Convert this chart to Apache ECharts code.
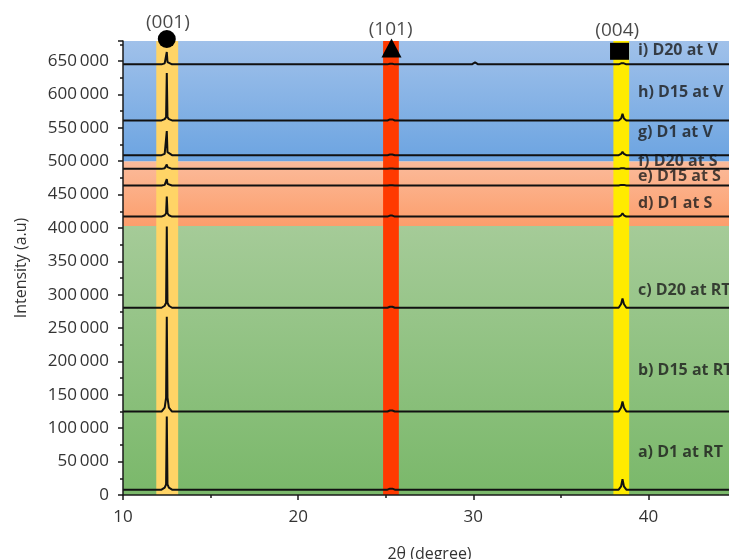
<!DOCTYPE html>
<html>
<head>
<meta charset="utf-8">
<script src="https://cdn.jsdelivr.net/npm/echarts@6/dist/echarts.min.js"></script>
<style>
  html, body { margin: 0; padding: 0; background: #ffffff; }
  #chart { width: 729px; height: 559px; }
</style>
</head>
<body>
<div id="chart"></div>
<script>
// 2θ sampling points shared by every diffractogram (degrees)
const twoTheta = [10, 12.2, 12.38, 12.46, 12.5, 12.54, 12.62, 12.8, 25.1, 25.24, 25.31, 25.38, 25.52, 29.92, 30.1, 30.28, 38.3, 38.44, 38.52, 38.6, 38.74, 45];

// Stacked intensities (a.u.), one array per sample
const intensityA = [8000, 8000, 11000, 16000, 117500, 16000, 11000, 8000, 8000, 9500, 11500, 9500, 8000, 8000, 8000, 8000, 8000, 13000, 23500, 13000, 8000, 8000];
const intensityB = [125000, 125000, 131000, 146000, 267000, 146000, 131000, 125000, 125000, 126500, 129000, 126500, 125000, 125000, 125000, 125000, 125000, 131000, 140000, 131000, 125000, 125000];
const intensityC = [280500, 280500, 283500, 288000, 402000, 288000, 283500, 280500, 280500, 282000, 284500, 282000, 280500, 280500, 280500, 280500, 280500, 286000, 294500, 286000, 280500, 280500];
const intensityD = [417000, 417000, 419000, 422000, 447000, 422000, 419000, 417000, 417000, 418500, 420500, 418500, 417000, 417000, 417000, 417000, 417000, 419000, 422000, 419000, 417000, 417000];
const intensityE = [463500, 463500, 464500, 466000, 473000, 466000, 464500, 463500, 463500, 464000, 465000, 464000, 463500, 463500, 463500, 463500, 463500, 464500, 466000, 464500, 463500, 463500];
const intensityF = [488500, 488500, 489500, 491000, 495000, 491000, 489500, 488500, 488500, 489000, 489500, 489000, 488500, 488500, 488500, 488500, 488500, 489500, 491500, 489500, 488500, 488500];
const intensityG = [509000, 509000, 511000, 513500, 545000, 513500, 511000, 509000, 509000, 510000, 511000, 510000, 509000, 509000, 509000, 509000, 509000, 511000, 514000, 511000, 509000, 509000];
const intensityH = [561000, 561000, 563000, 566000, 632000, 566000, 563000, 561000, 561000, 562500, 564500, 562500, 561000, 561000, 561000, 561000, 561000, 564000, 571000, 564000, 561000, 561000];
const intensityI = [645000, 645000, 646500, 648500, 663500, 648500, 646500, 645000, 645000, 646000, 647500, 646000, 645000, 645000, 648000, 645000, 645000, 646500, 648500, 646500, 645000, 645000];

const sampleNames = ['a) D1 at RT', 'b) D15 at RT', 'c) D20 at RT', 'd) D1 at S', 'e) D15 at S', 'f) D20 at S', 'g) D1 at V', 'h) D15 at V', 'i) D20 at V'];

// Reflections and their 2θ windows
const planeNames = ['(001)', '(101)', '(004)'];
const planeAngles = [12.5, 25.33, 38.35];
const planeWindows = [[11.9, 13.15], [24.85, 25.75], [38.0, 38.9]];

// Intensity limits of the RT / S / V groups
const groupLimits = [0, 403000, 500000, 680000];

// Axis ranges and ticks
const xRange = [10, 45];
const xStep = 10;
const yRange = [0, 680000];
const yStep = 50000;

// ---------------------------------------------------------------------------
const intensities = [intensityA, intensityB, intensityC, intensityD, intensityE, intensityF, intensityG, intensityH, intensityI];

const grad = (top, bottom) => new echarts.graphic.LinearGradient(0, 0, 0, 1, [
  { offset: 0, color: top }, { offset: 1, color: bottom }
]);
const groupFills = [grad('#a5cb98', '#7ab86a'), grad('#fbbb9b', '#fc9e6c'), grad('#a0c1ea', '#6ca4e1')];
const windowFills = ['#ffd466', '#ff3a00', '#ffeb00'];

const axisFont = 'Open Sans, DejaVu Sans, sans-serif';
const inkColor = '#333333';

// label anchor heights for the sample captions and the reflection captions
const captionLevels = [64400, 187200, 307000, 437400, 477000, 499500, 543700, 603600, 666500];
const captionX = 39.4;
const planeCaptionPos = [[12.56, 707300], [25.28, 696400], [38.22, 694900]];
const markerPos = [[planeAngles[0], 683000], [planeAngles[1], 669500], [planeAngles[2], 664600]];
const markerShapes = [['circle', 18], ['triangle', [20, 19]], ['rect', [19, 17]]];

const lineSeries = intensities.map((vals, k) => ({
  name: sampleNames[k],
  type: 'line',
  z: 3,
  symbol: 'none',
  silent: true,
  lineStyle: { color: '#111111', width: 2 },
  data: vals.map((v, j) => [twoTheta[j], v])
}));

const option = {
  animation: false,
  grid: { left: 123, top: 41, width: 613, height: 454, containLabel: false, outerBoundsMode: 'none' },
  xAxis: {
    type: 'value', min: xRange[0], max: xRange[1], interval: xStep,
    z: 10,
    name: '2θ (degree)', nameLocation: 'middle', nameGap: 51,
    nameTextStyle: { fontFamily: axisFont, fontSize: 16, color: inkColor },
    axisLine: { show: true, lineStyle: { color: '#1a1a1a', width: 1.5 } },
    axisTick: { show: true, inside: false, length: 5, lineStyle: { color: '#1a1a1a', width: 1.5 } },
    minorTick: { show: true, splitNumber: 2, length: 3, lineStyle: { color: '#1a1a1a', width: 1.5 } },
    axisLabel: {
      margin: 14, fontFamily: axisFont, fontSize: 17, color: inkColor, hideOverlap: false,
      formatter: v => (v % xStep === 0 ? String(v) : '')
    },
    splitLine: { show: false }, minorSplitLine: { show: false }
  },
  yAxis: {
    type: 'value', min: yRange[0], max: yRange[1], interval: yStep,
    z: 10,
    name: 'Intensity (a.u)', nameLocation: 'middle', nameGap: 94,
    nameTextStyle: { fontFamily: axisFont, fontSize: 16, color: inkColor },
    axisLine: { show: true, lineStyle: { color: '#1a1a1a', width: 1.5 } },
    axisTick: { show: true, inside: false, length: 5, lineStyle: { color: '#1a1a1a', width: 1.5 } },
    minorTick: { show: true, splitNumber: 2, length: 3, lineStyle: { color: '#1a1a1a', width: 1.5 } },
    axisLabel: {
      margin: 14, fontFamily: axisFont, fontSize: 17, color: inkColor,
      formatter: v => (v % yStep !== 0 ? '' : (v === 0 ? '0' : (v / 1000) + '\u2009000'))
    },
    splitLine: { show: false }, minorSplitLine: { show: false }
  },
  series: [
    {
      // RT / S / V group backgrounds
      type: 'line', data: [], silent: true,
      markArea: {
        z: 1, silent: true,
        data: groupFills.map((fill, k) => [
          { yAxis: groupLimits[k], itemStyle: { color: fill } },
          { yAxis: groupLimits[k + 1] }
        ])
      }
    },
    {
      // reflection windows
      type: 'line', data: [], silent: true,
      markArea: {
        z: 2, silent: true,
        data: planeWindows.map((w, k) => [
          { xAxis: w[0], itemStyle: { color: windowFills[k] } },
          { xAxis: w[1] }
        ])
      }
    },
    {
      // sample captions
      type: 'scatter', z: 2.5, silent: true, clip: false, symbolSize: 0,
      data: sampleNames.map((n, k) => ({ value: [captionX, captionLevels[k]], name: n })),
      label: {
        show: true, position: 'right', distance: 0, formatter: p => p.name,
        fontFamily: axisFont, fontWeight: 'bold', fontSize: 16, color: '#1c1c1c'
      }
    },
    ...lineSeries,
    {
      // reflection markers
      type: 'scatter', z: 6, silent: true, clip: false,
      itemStyle: { color: '#000000', opacity: 1 },
      data: markerPos.map((p, k) => ({ value: p, symbol: markerShapes[k][0], symbolSize: markerShapes[k][1] }))
    },
    {
      // reflection captions
      type: 'scatter', z: 6, silent: true, clip: false, symbolSize: 0,
      data: planeNames.map((n, k) => ({ value: planeCaptionPos[k], name: n })),
      label: {
        show: true, position: 'inside', formatter: p => p.name,
        fontFamily: axisFont, fontSize: 19, color: '#1a1a1a'
      }
    }
  ]
};

const chart = echarts.init(document.getElementById('chart'), null, { renderer: 'canvas' });
chart.setOption(option);
</script>
</body>
</html>
